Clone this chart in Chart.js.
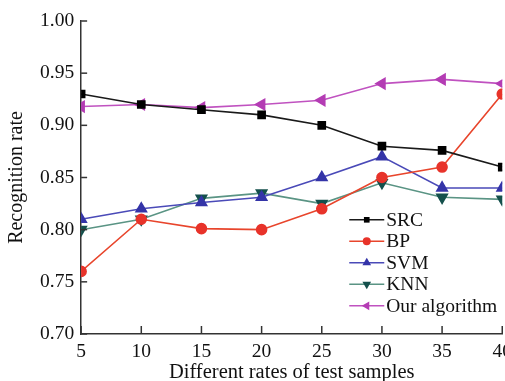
<!DOCTYPE html>
<html>
<head>
<meta charset="utf-8">
<script src="https://cdn.jsdelivr.net/npm/chart.js@4/dist/chart.umd.min.js"></script>
<style>
  html, body { margin: 0; padding: 0; background: #fff; overflow: hidden; }
  #wrap { width: 520px; height: 383px; }
</style>
</head>
<body>
<div id="wrap"><canvas id="myChart" width="520" height="383"></canvas></div>
<script>
const rates = [5, 10, 15, 20, 25, 30, 35, 40];
const src = [0.930, 0.920, 0.915, 0.910, 0.900, 0.880, 0.876, 0.860];
const bp = [0.760, 0.810, 0.801, 0.800, 0.820, 0.850, 0.860, 0.930];
const svm = [0.810, 0.820, 0.826, 0.831, 0.850, 0.870, 0.840, 0.840];
const knn = [0.800, 0.810, 0.830, 0.835, 0.825, 0.845, 0.831, 0.829];
const ours = [0.918, 0.920, 0.917, 0.920, 0.924, 0.940, 0.944, 0.940];
const yTicks = [0.70, 0.75, 0.80, 0.85, 0.90, 0.95, 1.00];

const serif = "'Liberation Serif', 'Times New Roman', serif";

function series(label, values, line, mark, style, rot, r) {
    return {
        label,
        data: rates.map((x, i) => ({ x, y: values[i] })),
        borderColor: line,
        borderWidth: 1.6,
        pointBackgroundColor: mark,
        pointBorderColor: mark,
        pointStyle: style,
        pointRotation: rot,
        pointRadius: r,
        pointHoverRadius: r,
        tension: 0
    };
}

const datasets = [
    series("SRC", src, "#1a1a1a", "#000000", "rect", 0, 5),
    series("BP", bp, "#e8452c", "#e8332a", "circle", 0, 5),
    series("SVM", svm, "#4a4ab8", "#3434a8", "triangle", 0, 6),
    series("KNN", knn, "#5a9484", "#14504c", "triangle", 180, 6),
    series("Our algorithm", ours, "#c052c0", "#b43cb4", "triangle", 270, 6)
];

// inward tick marks and the legend with line + marker samples
const extras = {
    id: "extras",
    afterDraw(chart) {
        const c = chart.ctx;
        const xs = chart.scales.x, ys = chart.scales.y;
        const a = chart.chartArea;
        c.save();
        c.strokeStyle = "#333";
        c.lineWidth = 1.5;
        rates.forEach(v => {
            const px = xs.getPixelForValue(v);
            c.beginPath(); c.moveTo(px, a.bottom); c.lineTo(px, a.bottom - 8); c.stroke();
        });
        yTicks.forEach(v => {
            const py = ys.getPixelForValue(v);
            c.beginPath(); c.moveTo(a.left, py); c.lineTo(a.left + 6, py); c.stroke();
        });

        const x0 = a.right - 153, x1 = a.right - 118, tx = a.right - 116;
        let y = ys.getPixelForValue(0.82) + 11;
        chart.data.datasets.forEach(ds => {
            c.strokeStyle = ds.borderColor;
            c.lineWidth = 1.6;
            c.beginPath(); c.moveTo(x0, y); c.lineTo(x1, y); c.stroke();
            c.fillStyle = ds.pointBackgroundColor;
            Chart.helpers.drawPoint(c, {
                pointStyle: ds.pointStyle, rotation: ds.pointRotation,
                radius: ds.pointRadius - 1, borderWidth: 0
            }, (x0 + x1) / 2, y);
            c.fillStyle = "#111";
            c.font = "19.5px " + serif;
            c.textBaseline = "middle";
            c.textAlign = "left";
            c.fillText(ds.label, tx, y + 1);
            y += 21.5;
        });
        c.restore();
    }
};

const ctx = document.getElementById("myChart").getContext("2d");
const myChart = new Chart(ctx, {
    type: "line",
    data: { datasets },
    options: {
        responsive: false,
        animation: false,
        layout: { padding: { left: 5, right: 13, top: 21, bottom: 0 } },
        plugins: { legend: { display: false }, tooltip: { enabled: false } },
        scales: {
            x: {
                type: "linear",
                min: 5, max: 40,
                grid: { display: false, drawTicks: false },
                border: { display: true, color: "#333", width: 1.5 },
                ticks: {
                    stepSize: 5, padding: 8, color: "#111",
                    font: { family: serif, size: 19.5, lineHeight: 1.0 },
                    maxRotation: 0
                },
                title: {
                    display: true, text: "Different rates of test samples",
                    color: "#111", font: { family: serif, size: 20.5, lineHeight: 1.0 },
                    padding: { top: -7, bottom: 0 }
                }
            },
            y: {
                min: 0.70, max: 1.00,
                grid: { display: false, drawTicks: false },
                border: { display: true, color: "#333", width: 1.5 },
                afterBuildTicks(scale) { scale.ticks = yTicks.map(v => ({ value: v })); },
                ticks: {
                    padding: 7, color: "#111",
                    font: { family: serif, size: 19.5 },
                    callback: v => Number(v).toFixed(2)
                },
                title: {
                    display: true, text: "Recognition rate",
                    color: "#111", font: { family: serif, size: 20 },
                    padding: { top: 0, bottom: 4 }
                }
            }
        }
    },
    plugins: [extras]
});
</script>
</body>
</html>
